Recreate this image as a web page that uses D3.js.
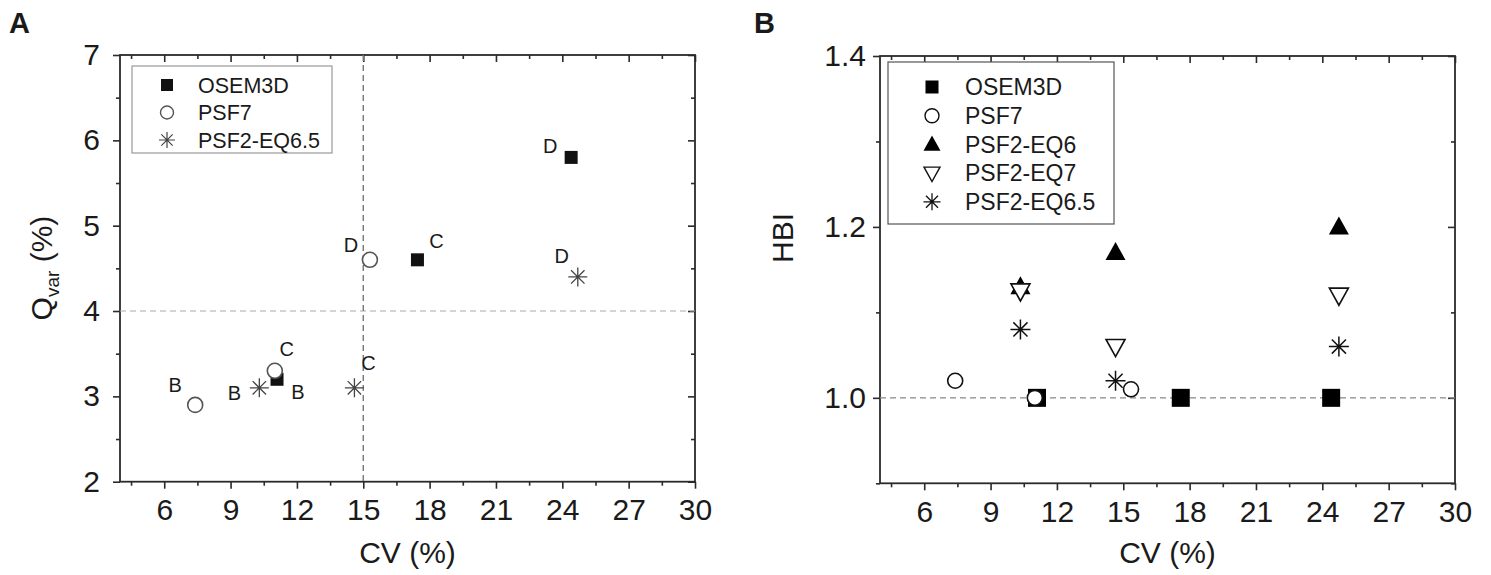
<!DOCTYPE html>
<html>
<head>
<meta charset="utf-8">
<script src="https://cdn.jsdelivr.net/npm/d3@7"></script>
<style>
  body { margin: 0; background: #fff; }
  text { font-family: "Liberation Sans", Arial, sans-serif; fill: #1a1a1a; }
</style>
</head>
<body>
<svg id="chart"></svg>
<script>
//------ Données ------
var xMajorTicks = [6, 9, 12, 15, 18, 21, 24, 27, 30];
var xMinorTicks = [4.5, 7.5, 10.5, 13.5, 16.5, 19.5, 22.5, 25.5, 28.5];

// panneau A : Qvar en fonction du CV
var seriesA = ["OSEM3D", "PSF7", "PSF2-EQ6.5"];
var pointLabelsA = ["B", "C", "D"];
var cvA_OSEM3D = [11.1, 17.45, 24.4];
var qvarA_OSEM3D = [3.2, 4.6, 5.8];
var cvA_PSF7 = [7.4, 11.0, 15.3];
var qvarA_PSF7 = [2.9, 3.3, 4.6];
var cvA_EQ65 = [10.3, 14.6, 24.7];
var qvarA_EQ65 = [3.1, 3.1, 4.4];
var yMajorA = [2, 3, 4, 5, 6, 7];
var yMinorA = [2.5, 3.5, 4.5, 5.5, 6.5];

// panneau B : HBI en fonction du CV
var seriesB = ["OSEM3D", "PSF7", "PSF2-EQ6", "PSF2-EQ7", "PSF2-EQ6.5"];
var cvB_OSEM3D = [11.1, 17.6, 24.4];
var hbiB_OSEM3D = [1.0, 1.0, 1.0];
var cvB_PSF7 = [7.4, 11.0, 15.35];
var hbiB_PSF7 = [1.02, 1.0, 1.01];
var cvB_EQ6 = [10.35, 14.65, 24.75];
var hbiB_EQ6 = [1.13, 1.17, 1.2];
var cvB_EQ7 = [10.35, 14.65, 24.75];
var hbiB_EQ7 = [1.125, 1.06, 1.12];
var cvB_EQ65 = [10.35, 14.65, 24.75];
var hbiB_EQ65 = [1.08, 1.02, 1.06];
var yMajorB = [1.0, 1.2, 1.4];
var yMinorB = [0.9, 1.1, 1.3];

//------ Rendre la figure ------
var width = 1491, height = 575;
var svg = d3.select("#chart").attr("width", width).attr("height", height);

var axisColor = "#2a2a2a";

// formes des marqueurs
function markerPath(type, s) {
    var h = s / 2;
    if (type == "square") return "M" + -h + "," + -h + "H" + h + "V" + h + "H" + -h + "Z";
    if (type == "up") return "M0," + (-h * 1.05) + "L" + h + "," + (h * 0.75) + "L" + -h + "," + (h * 0.75) + "Z";
    if (type == "down") return "M0," + (h * 1.05) + "L" + h + "," + (-h * 0.75) + "L" + -h + "," + (-h * 0.75) + "Z";
    if (type == "star") {
        var d = h * 0.7071;
        return "M0," + -h + "V" + h + "M" + -h + ",0H" + h +
            "M" + -d + "," + -d + "L" + d + "," + d + "M" + -d + "," + d + "L" + d + "," + -d;
    }
    return "";
}

function drawMarker(g, type, cx, cy, st) {
    if (type == "circle") {
        g.append("circle").attr("cx", cx).attr("cy", cy).attr("r", st.r)
            .attr("fill", "#fff").attr("stroke", st.color).attr("stroke-width", st.sw);
    } else if (type == "square" || type == "up") {
        g.append("path").attr("d", markerPath(type, st.size))
            .attr("transform", "translate(" + cx + "," + cy + ")")
            .attr("fill", st.color).attr("stroke", "none");
    } else if (type == "down") {
        g.append("path").attr("d", markerPath(type, st.size))
            .attr("transform", "translate(" + cx + "," + cy + ")")
            .attr("fill", "#fff").attr("stroke", st.color).attr("stroke-width", st.sw);
    } else {
        g.append("path").attr("d", markerPath(type, st.size))
            .attr("transform", "translate(" + cx + "," + cy + ")")
            .attr("fill", "none").attr("stroke", st.color).attr("stroke-width", st.sw);
    }
}

// cadre + axes d'un panneau
function drawFrame(p) {
    var g = svg.append("g");
    var x = p.x, y = p.y;
    var x0 = x.range()[0], x1 = x.range()[1], y0 = y.range()[0], y1 = y.range()[1];

    g.append("g").attr("transform", "translate(0," + y0 + ")")
        .call(d3.axisBottom(x).tickValues(xMajorTicks).tickSize(7).tickPadding(10).tickFormat(d3.format("d")));
    g.append("g").attr("transform", "translate(0," + y0 + ")")
        .call(d3.axisBottom(x).tickValues(xMinorTicks).tickSize(4).tickFormat(""));
    g.append("g").attr("transform", "translate(0," + y1 + ")")
        .call(d3.axisTop(x).tickValues(xMajorTicks).tickSize(-7).tickFormat(""));
    g.append("g").attr("transform", "translate(0," + y1 + ")")
        .call(d3.axisTop(x).tickValues(xMinorTicks).tickSize(-4).tickFormat(""));

    g.append("g").attr("transform", "translate(" + x0 + ",0)")
        .call(d3.axisLeft(y).tickValues(p.yMajor).tickSize(7).tickPadding(p.yPad).tickFormat(d3.format(p.yFormat)));
    g.append("g").attr("transform", "translate(" + x0 + ",0)")
        .call(d3.axisLeft(y).tickValues(p.yMinor).tickSize(4).tickFormat(""));
    g.append("g").attr("transform", "translate(" + x1 + ",0)")
        .call(d3.axisRight(y).tickValues(p.yMajor).tickSize(-7).tickFormat(""));
    g.append("g").attr("transform", "translate(" + x1 + ",0)")
        .call(d3.axisRight(y).tickValues(p.yMinor).tickSize(-4).tickFormat(""));

    g.selectAll(".domain").remove();
    g.selectAll(".tick line").attr("stroke", axisColor).attr("stroke-width", 1.6);
    g.selectAll(".tick text").style("font-size", "30px").attr("fill", "#1a1a1a")
        .style("font-family", "'Liberation Sans', Arial, sans-serif");

    g.append("rect").attr("x", x0).attr("y", y1).attr("width", x1 - x0).attr("height", y0 - y1)
        .attr("fill", "none").attr("stroke", axisColor).attr("stroke-width", 1.8);

    // titre x
    g.append("text").attr("x", (x0 + x1) / 2).attr("y", 563).attr("text-anchor", "middle")
        .style("font-size", "30px").text("CV (%)");
    return g;
}

//-- Panneau A --
var xA = d3.scaleLinear().domain([4, 30]).range([120, 695]);
var yA = d3.scaleLinear().domain([2, 7]).range([481.7, 55]);

var gA = drawFrame({ x: xA, y: yA, yMajor: yMajorA, yMinor: yMinorA, yFormat: "d", yPad: 13 });

// lignes de référence
gA.append("line").attr("x1", xA(4)).attr("x2", xA(30)).attr("y1", yA(4)).attr("y2", yA(4))
    .attr("stroke", "#aaa").attr("stroke-width", 1.2).attr("stroke-dasharray", "6,4");
gA.append("line").attr("x1", xA(15)).attr("x2", xA(15)).attr("y1", yA(7)).attr("y2", yA(2))
    .attr("stroke", "#777").attr("stroke-width", 1.4).attr("stroke-dasharray", "6,4");

var styleA = {
    square: { size: 13, color: "#111" },
    circle: { r: 7.5, color: "#555", sw: 1.6 },
    star: { size: 19, color: "#444", sw: 1.3 }
};
var dataA = [
    { type: "square", cv: cvA_OSEM3D, v: qvarA_OSEM3D, off: [[21, 13], [19, -19], [-21, -12]] },
    { type: "circle", cv: cvA_PSF7, v: qvarA_PSF7, off: [[-20, -20], [12, -22], [-19, -15]] },
    { type: "star", cv: cvA_EQ65, v: qvarA_EQ65, off: [[-25, 5], [14, -25], [-16, -21]] }
];
dataA.forEach(function (s) {
    s.cv.forEach(function (c, i) {
        var px = xA(c), py = yA(s.v[i]);
        drawMarker(gA, s.type, px, py, styleA[s.type]);
        gA.append("text").attr("x", px + s.off[i][0]).attr("y", py + s.off[i][1])
            .attr("text-anchor", "middle").attr("dy", "0.36em")
            .style("font-size", "20px").text(pointLabelsA[i]);
    });
});

// légende A
var legA = gA.append("g");
legA.append("rect").attr("x", 132).attr("y", 66).attr("width", 200).attr("height", 87)
    .attr("fill", "#fff").attr("stroke", "#999").attr("stroke-width", 1.2);
var legTypesA = ["square", "circle", "star"];
var legStyleA = {
    square: { size: 12, color: "#111" },
    circle: { r: 6.5, color: "#555", sw: 1.4 },
    star: { size: 16, color: "#444", sw: 1.2 }
};
seriesA.forEach(function (name, i) {
    var cy = 85 + i * 27.5;
    drawMarker(legA, legTypesA[i], 167, cy, legStyleA[legTypesA[i]]);
    legA.append("text").attr("x", 198).attr("y", cy).attr("dy", "0.36em")
        .style("font-size", "21.5px").text(name);
});

// titre y A
gA.append("text").attr("transform", "translate(52,268) rotate(-90)").attr("text-anchor", "middle")
    .style("font-size", "30px")
    .call(function (t) {
        t.append("tspan").text("Q");
        t.append("tspan").attr("dy", 7).style("font-size", "19px").text("var");
        t.append("tspan").attr("dy", -7).text(" (%)");
    });

svg.append("text").attr("x", 9).attr("y", 33).style("font-size", "29px").style("font-weight", "bold").text("A");

//-- Panneau B --
var xB = d3.scaleLinear().domain([4, 30]).range([880, 1455]);
var yB = d3.scaleLinear().domain([0.9, 1.4]).range([483.3, 56]);

var gB = drawFrame({ x: xB, y: yB, yMajor: yMajorB, yMinor: yMinorB, yFormat: ".1f", yPad: 7 });

gB.append("line").attr("x1", xB(4)).attr("x2", xB(30)).attr("y1", yB(1.0)).attr("y2", yB(1.0))
    .attr("stroke", "#888").attr("stroke-width", 1.1).attr("stroke-dasharray", "6,4");

var styleB = {
    square: { size: 18, color: "#000" },
    circle: { r: 7.5, color: "#111", sw: 1.6 },
    up: { size: 20, color: "#000" },
    down: { size: 19, color: "#111", sw: 1.6 },
    star: { size: 20, color: "#111", sw: 1.5 }
};
var dataB = [
    { type: "square", cv: cvB_OSEM3D, v: hbiB_OSEM3D },
    { type: "circle", cv: cvB_PSF7, v: hbiB_PSF7 },
    { type: "up", cv: cvB_EQ6, v: hbiB_EQ6 },
    { type: "down", cv: cvB_EQ7, v: hbiB_EQ7 },
    { type: "star", cv: cvB_EQ65, v: hbiB_EQ65 }
];
dataB.forEach(function (s) {
    s.cv.forEach(function (c, i) {
        drawMarker(gB, s.type, xB(c), yB(s.v[i]), styleB[s.type]);
    });
});

// légende B
var legB = gB.append("g");
legB.append("rect").attr("x", 888).attr("y", 62).attr("width", 226).attr("height", 162)
    .attr("fill", "#fff").attr("stroke", "#555").attr("stroke-width", 1.2);
var legTypesB = ["square", "circle", "up", "down", "star"];
var legStyleB = {
    square: { size: 13, color: "#000" },
    circle: { r: 7, color: "#111", sw: 1.4 },
    up: { size: 17, color: "#000" },
    down: { size: 16, color: "#111", sw: 1.4 },
    star: { size: 17, color: "#111", sw: 1.3 }
};
seriesB.forEach(function (name, i) {
    var cy = 87 + i * 28.7;
    drawMarker(legB, legTypesB[i], 932, cy, legStyleB[legTypesB[i]]);
    legB.append("text").attr("x", 965).attr("y", cy).attr("dy", "0.36em")
        .style("font-size", "23px").text(name);
});

gB.append("text").attr("transform", "translate(793,238) rotate(-90)").attr("text-anchor", "middle")
    .style("font-size", "30px").text("HBI");

svg.append("text").attr("x", 754).attr("y", 33).style("font-size", "29px").style("font-weight", "bold").text("B");
</script>
</body>
</html>
